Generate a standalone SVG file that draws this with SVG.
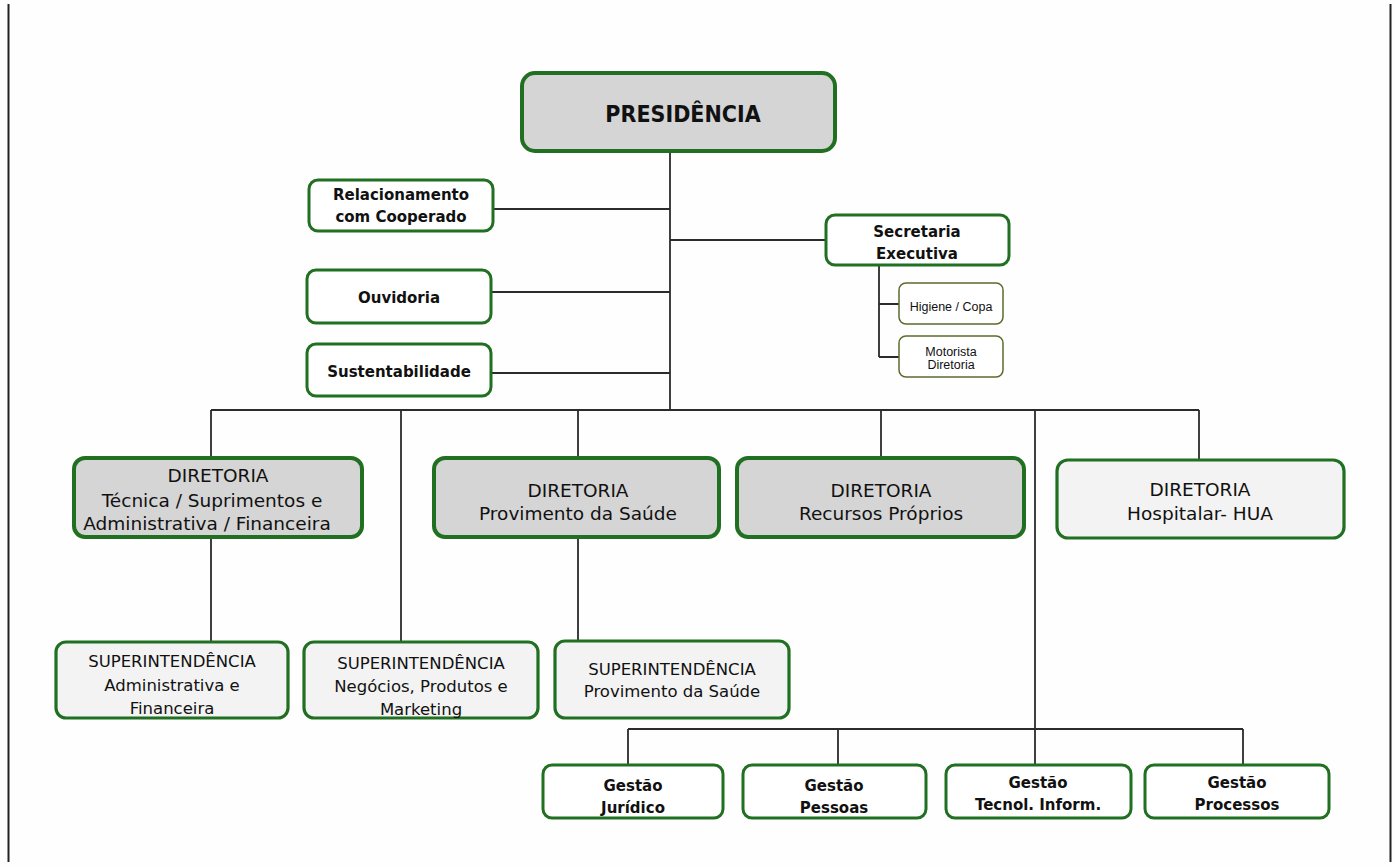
<svg xmlns="http://www.w3.org/2000/svg" width="1395" height="867" viewBox="0 0 1395 867">
<style>
.bg{fill:#fefefe}
.n{fill:#ffffff;stroke:#217021;stroke-width:3}
.g{fill:#d5d5d5;stroke:#217021;stroke-width:4}
.l{fill:#f3f3f3;stroke:#217021;stroke-width:3.2}
.s{fill:#ffffff;stroke:#5b6b2c;stroke-width:1.5}
.c{fill:none;stroke:#2b2b2b;stroke-width:1.8}
text{font-family:"DejaVu Sans","Noto Sans",sans-serif;fill:#111;text-anchor:middle}
.b{font-weight:bold;font-size:15px}
.r{font-size:18.5px}
.u{font-size:16.5px}
.p{font-family:"DejaVu Sans Condensed","DejaVu Sans",sans-serif;font-size:23px;font-weight:bold}
.a{font-family:"Liberation Sans",Arial,sans-serif;font-size:12.5px}
</style>
<rect class="bg" x="0" y="0" width="1395" height="867"/>
<g id="frame">
<line x1="8.5" y1="4" x2="8.5" y2="862" stroke="#222" stroke-width="2"/>
<line x1="1390.5" y1="4" x2="1390.5" y2="862" stroke="#222" stroke-width="2"/>
</g>
<g id="connectors" class="c">
<path d="M670 151 V410"/>
<path d="M493 209 H670"/>
<path d="M491 292 H670"/>
<path d="M491 373 H670"/>
<path d="M670 240 H826"/>
<path d="M879 265 V357 M879 304 H899 M879 357 H899"/>
<path d="M211 410 H1199"/>
<path d="M211 410 V458 M211 537 V642"/>
<path d="M401 410 V642"/>
<path d="M578 410 V458 M578 537 V641"/>
<path d="M881 410 V458"/>
<path d="M1035 410 V765"/>
<path d="M1199 410 V460"/>
<path d="M628 729 H1243 M628 729 V765 M838 729 V765 M1243 729 V765"/>
</g>
<g id="presidencia"><rect class="g" x="522" y="73" width="313" height="78" rx="13"/><text class="p" x="683" y="122">PRESIDÊNCIA</text></g>
<g id="relacionamento"><rect class="n" x="309" y="180" width="184" height="51" rx="9"/><text class="b" x="401" y="200">Relacionamento</text><text class="b" x="401" y="222">com Cooperado</text></g>
<g id="ouvidoria"><rect class="n" x="307" y="270" width="184" height="53" rx="9"/><text class="b" x="399" y="303">Ouvidoria</text></g>
<g id="sustentabilidade"><rect class="n" x="307" y="344" width="184" height="52" rx="9"/><text class="b" x="399" y="377">Sustentabilidade</text></g>
<g id="secretaria"><rect class="n" x="826" y="215" width="183" height="50" rx="9"/><text class="b" x="917" y="237">Secretaria</text><text class="b" x="917" y="259">Executiva</text></g>
<g id="higiene"><rect class="s" x="899" y="283" width="104" height="41" rx="7"/><text class="a" x="951" y="311">Higiene / Copa</text></g>
<g id="motorista"><rect class="s" x="899" y="336" width="104" height="41" rx="7"/><text class="a" x="951" y="356" font-size="12px">Motorista</text><text class="a" x="951" y="369" font-size="11px">Diretoria</text></g>
<g id="dir-tecnica"><rect class="g" x="74" y="458" width="288" height="79" rx="11"/><text class="r" x="218" y="482">DIRETORIA</text><text class="r" x="212" y="507">Técnica / Suprimentos e</text><text class="r" x="207" y="530">Administrativa / Financeira</text></g>
<g id="dir-provimento"><rect class="g" x="434" y="458" width="285" height="79" rx="11"/><text class="r" x="578" y="497">DIRETORIA</text><text class="r" x="578" y="520">Provimento da Saúde</text></g>
<g id="dir-recursos"><rect class="g" x="737" y="458" width="287" height="79" rx="11"/><text class="r" x="881" y="497">DIRETORIA</text><text class="r" x="881" y="520">Recursos Próprios</text></g>
<g id="dir-hospitalar"><rect class="l" x="1057" y="460" width="287" height="78" rx="11"/><text class="r" x="1200" y="496">DIRETORIA</text><text class="r" x="1200" y="520">Hospitalar- HUA</text></g>
<g id="sup-adm"><rect class="l" x="56" y="642" width="232" height="76" rx="10"/><text class="u" x="172" y="667">SUPERINTENDÊNCIA</text><text class="u" x="172" y="691">Administrativa e</text><text class="u" x="172" y="714">Financeira</text></g>
<g id="sup-negocios"><rect class="l" x="304" y="642" width="234" height="76" rx="10"/><text class="u" x="421" y="669">SUPERINTENDÊNCIA</text><text class="u" x="421" y="692">Negócios, Produtos e</text><text class="u" x="421" y="715">Marketing</text></g>
<g id="sup-provimento"><rect class="l" x="555" y="641" width="234" height="77" rx="10"/><text class="u" x="672" y="675">SUPERINTENDÊNCIA</text><text class="u" x="672" y="697">Provimento da Saúde</text></g>
<g id="gestao-juridico"><rect class="n" x="543" y="765" width="180" height="53" rx="9"/><text class="b" x="633" y="791">Gestão</text><text class="b" x="633" y="813">Jurídico</text></g>
<g id="gestao-pessoas"><rect class="n" x="743" y="765" width="183" height="53" rx="9"/><text class="b" x="834" y="791">Gestão</text><text class="b" x="834" y="813">Pessoas</text></g>
<g id="gestao-ti"><rect class="n" x="946" y="765" width="185" height="53" rx="9"/><text class="b" x="1038" y="788">Gestão</text><text class="b" x="1038" y="810">Tecnol. Inform.</text></g>
<g id="gestao-processos"><rect class="n" x="1145" y="765" width="184" height="53" rx="9"/><text class="b" x="1237" y="788">Gestão</text><text class="b" x="1237" y="810">Processos</text></g>
</svg>
